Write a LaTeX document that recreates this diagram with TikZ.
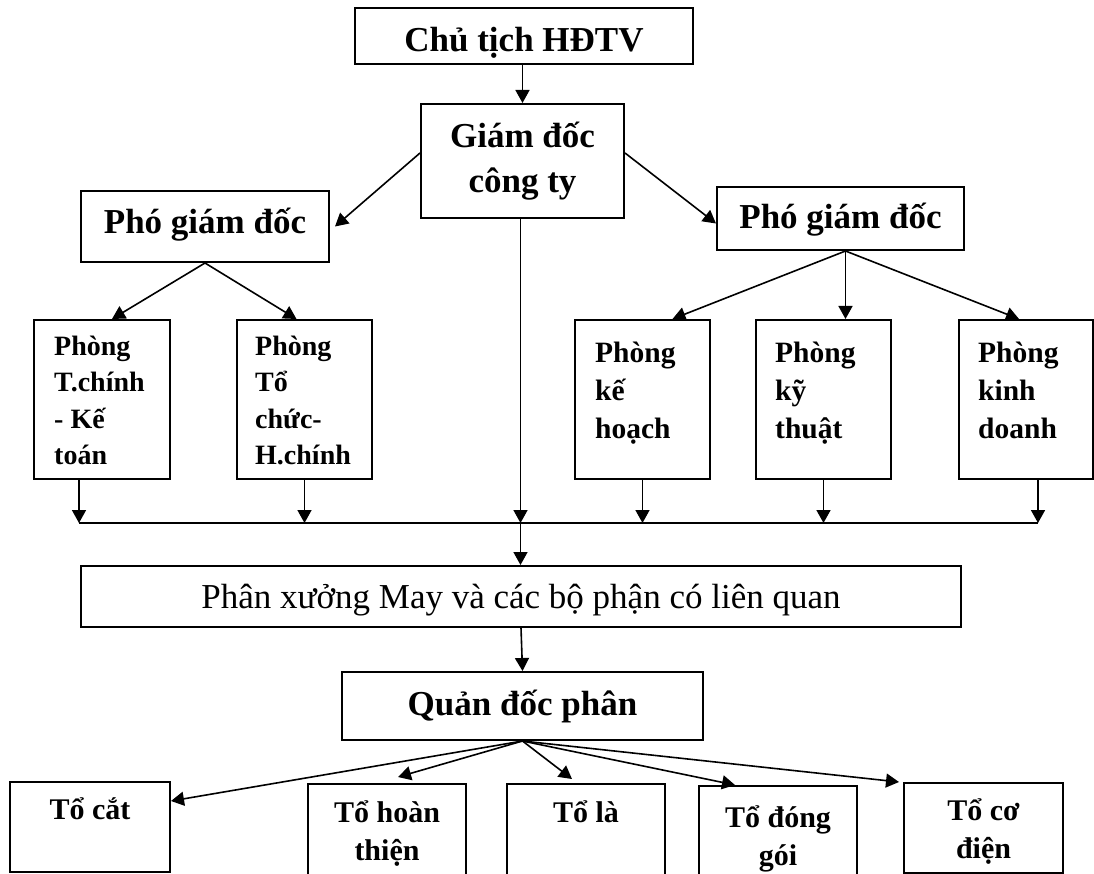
\documentclass[tikz,border=0pt]{standalone}
\usepackage{fontspec}
\setmainfont{Liberation Serif}
\usetikzlibrary{arrows.meta,calc}
\begin{document}
\begin{tikzpicture}[x=1pt,y=-1pt,
  box/.style={draw, line width=2pt, inner sep=0pt},
  big/.style={font=\fontsize{35}{45}\selectfont\bfseries, align=center},
  reg/.style={font=\fontsize{35}{42}\selectfont},
  bl/.style={text depth=0pt, text height=#1},
  lbl/.style={font=\fontsize{28}{36.5}\selectfont\bfseries, inner sep=0pt},
  lblr/.style={font=\fontsize{29.5}{38}\selectfont\bfseries, inner sep=0pt},
  lblb/.style={font=\fontsize{30}{38}\selectfont\bfseries, inner sep=0pt},
  arr/.style={line width=1.6pt, -{Triangle[length=13pt,width=14pt]}},
  ln/.style={line width=2pt}]
\useasboundingbox (0,0) rectangle (1094,874);

% top boxes
\node[box, big, bl=32pt, minimum width=338pt, minimum height=56pt] (ct) at (524,36) {Chủ tịch HĐTV};
\node[box, big, minimum width=203pt, minimum height=114pt] (gd) at (522.5,161) {Giám đốc\\công ty};
\node[box, big, bl=15pt, minimum width=248pt, minimum height=71pt] (pl) at (205,226.5) {Phó giám đốc};
\node[box, big, bl=21pt, minimum width=247pt, minimum height=63pt] (pr) at (840.5,218.5) {Phó giám đốc};

% departments
\node[box, minimum width=136pt, minimum height=159pt] (p1) at (102,399.5) {};
\node[box, minimum width=135pt, minimum height=159pt] (p2) at (304.5,399.5) {};
\node[box, minimum width=135pt, minimum height=159pt] (p3) at (642.5,399.5) {};
\node[box, minimum width=135pt, minimum height=159pt] (p4) at (823.5,399.5) {};
\node[box, minimum width=134pt, minimum height=159pt] (p5) at (1026,399.5) {};

\node[lbl, anchor=north west, align=left] (p1t) at ([xshift=21pt,yshift=-10pt]p1.north west) {\rule{0pt}{26pt}Phòng\\T.chính\\- Kế\\toán};
\node[lbl, anchor=north west, align=left] (p2t) at ([xshift=19pt,yshift=-10pt]p2.north west) {\rule{0pt}{26pt}Phòng\\Tổ\\chức-\\H.chính};
\node[lblr, anchor=north west, align=left] (p3t) at ([xshift=21pt,yshift=-17pt]p3.north west) {\rule{0pt}{26pt}Phòng\\kế\\hoạch};
\node[lblr, anchor=north west, align=left] (p4t) at ([xshift=20pt,yshift=-17pt]p4.north west) {\rule{0pt}{26pt}Phòng\\kỹ\\thuật};
\node[lblr, anchor=north west, align=left] (p5t) at ([xshift=20pt,yshift=-17pt]p5.north west) {\rule{0pt}{26pt}Phòng\\kinh\\doanh};

% workshop
\node[box, reg, bl=23pt, minimum width=880pt, minimum height=61pt] (px) at (521,596.5) {Phân xưởng May và các bộ phận có liên quan};
\node[box, big, bl=18pt, minimum width=361pt, minimum height=68pt] (qd) at (522.5,706) {Quản đốc phân};

% teams
\node[box, minimum width=160pt, minimum height=90pt] (t1) at (90,827) {};
\node[box, minimum width=158pt, minimum height=100pt] (t2) at (387,834) {};
\node[box, minimum width=158pt, minimum height=100pt] (t3) at (586,834) {};
\node[box, minimum width=158pt, minimum height=100pt] (t4) at (778,836) {};
\node[box, minimum width=159pt, minimum height=90pt] (t5) at (983.5,828) {};

\node[lblb, anchor=north, align=center] (t1t) at ([yshift=-12pt]t1.north) {\rule{0pt}{26pt}Tổ cắt};
\node[lblb, anchor=north, align=center] (t2t) at ([yshift=-13pt]t2.north) {\rule{0pt}{26pt}Tổ hoàn\\thiện};
\node[lblb, anchor=north, align=center] (t3t) at ([yshift=-13pt]t3.north) {\rule{0pt}{26pt}Tổ là};
\node[lblb, anchor=north, align=center] (t4t) at ([yshift=-16pt]t4.north) {\rule{0pt}{26pt}Tổ đóng\\gói};
\node[lblb, anchor=north, align=center] (t5t) at ([yshift=-12pt]t5.north) {\rule{0pt}{26pt}Tổ cơ\\điện};

% connectors top
\draw[arr] (gd.north |- ct.south) -- (gd.north);
\draw[arr] ([yshift=8pt]gd.west) -- ([xshift=5pt]pl.east);
\draw[arr] ([yshift=8pt]gd.east) -- ([yshift=-5pt]pr.west);

% left fan
\draw[arr] (pl.south) -- ([xshift=10pt]p1.north);
\draw[arr] (pl.south) -- ([xshift=-8pt]p2.north);

% right fan
\coordinate (rf) at ([xshift=5pt]pr.south);
\draw[arr] (rf) -- ([xshift=30pt]p3.north);
\draw[arr] (rf) -- (rf |- p4.north);
\draw[arr] (rf) -- ([xshift=-7pt]p5.north);

% bus
\coordinate (bus) at (0,523);
\coordinate (busL) at ([xshift=-23pt]p1.south |- bus);
\coordinate (busR) at ([xshift=12pt]p5.south |- bus);
\draw[ln] (busL) -- (busR);
\draw[arr] ([xshift=-23pt]p1.south) -- (busL);
\draw[arr] (p2.south) -- (p2.south |- bus);
\draw[arr] (p3.south) -- (p3.south |- bus);
\draw[arr] (p4.south) -- (p4.south |- bus);
\draw[arr] ([xshift=12pt]p5.south) -- (busR);
\coordinate (cx) at ([xshift=-2pt]gd.south);
\draw[arr] (cx) -- (cx |- bus);
\draw[arr] (cx |- bus) -- (cx |- px.north);

% lower
\draw[arr] (px.south) -- (qd.north);
\draw[arr] (qd.south) -- ([yshift=-20pt]t1.north east);
\draw[arr] (qd.south) -- ([xshift=11pt,yshift=6pt]t2.north);
\draw[arr] (qd.south) -- ([xshift=-14pt,yshift=4pt]t3.north);
\draw[arr] (qd.south) -- ([xshift=37pt]t4.north west);
\draw[arr] (qd.south) -- ([xshift=-4pt]t5.north west);
\end{tikzpicture}
\end{document}
